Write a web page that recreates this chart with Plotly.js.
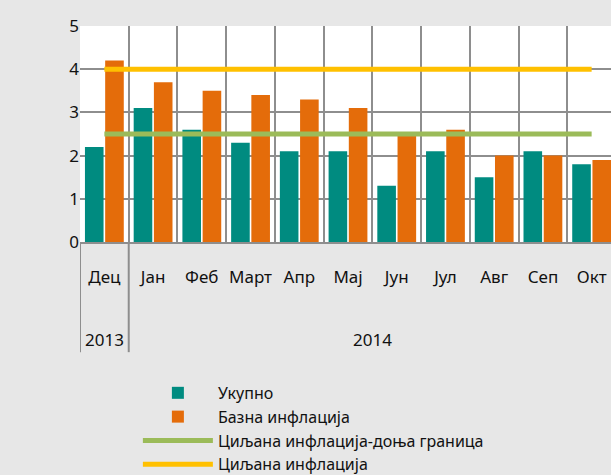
<!DOCTYPE html>
<html><head><meta charset="utf-8">
<script src="https://cdn.plot.ly/plotly-3.0.1.min.js"></script>
<style>html,body{margin:0;padding:0;overflow:hidden;background:#e7e7e7}</style>
</head><body><div id="chart" style="width:620px;height:475px"></div>
<script>
const months = ['Дец','Јан','Феб','Март','Апр','Мај','Јун','Јул','Авг','Сеп','Окт'];
const years = ['2013','2014','2014','2014','2014','2014','2014','2014','2014','2014','2014'];
const total = [2.2,3.1,2.6,2.3,2.1,2.1,1.3,2.1,1.5,2.1,1.8];
const core = [4.2,3.7,3.5,3.4,3.3,3.1,2.5,2.6,2.0,2.0,1.9];
const targetLow = [2.5,2.5,2.5,2.5,2.5,2.5,2.5,2.5,2.5,2.5,2.5];
const target = [4,4,4,4,4,4,4,4,4,4,4];
const seriesNames = ['Укупно','Базна инфлација','Циљана инфлација-доња граница','Циљана инфлација'];
const yTicks = [0,1,2,3,4,5];

const FONT = 'Noto Sans, DejaVu Sans, sans-serif';
const GRID = '#8e8e8e';
const TXT = '#111';

// year groups built from the years array
const groups = [];
years.forEach((y,i)=>{
  if(!groups.length || groups[groups.length-1].year!==y) groups.push({year:y,start:i,end:i});
  else groups[groups.length-1].end = i;
});
const dividerPos = groups.map(g=>g.start-0.5).concat([groups[groups.length-1].end+0.5]);

const shapes = dividerPos.map(p=>({type:'line',xref:'x',yref:'paper',x0:p,x1:p,y0:0,y1:-0.51,
  line:{color:GRID,width:2},layer:'above'}));
const annotations = groups.map(g=>({xref:'x',yref:'paper',x:(g.start+g.end)/2,y:-0.4537,
  text:g.year,showarrow:false,yanchor:'middle',xanchor:'center',font:{family:FONT,size:17,color:TXT}}));

const data = [
  {type:'bar',x:months,y:total,name:seriesNames[0],marker:{color:'#008b80'}},
  {type:'bar',x:months,y:core,name:seriesNames[1],marker:{color:'#e46c0a'}},
  {type:'scatter',mode:'lines',x:months,y:targetLow,name:seriesNames[2],line:{color:'#9bbb59',width:5}},
  {type:'scatter',mode:'lines',x:months,y:target,name:seriesNames[3],line:{color:'#ffc000',width:5}}
];

const layout = {
  width:620,height:475,
  margin:{l:80,r:4,t:26,b:233,autoexpand:false},
  paper_bgcolor:'#e7e7e7',plot_bgcolor:'#ffffff',
  barmode:'group',bargap:0.17,bargroupgap:0.08,
  font:{family:FONT,size:17,color:TXT},
  xaxis:{type:'category',range:[-0.5,10.5],tickson:'boundaries',showgrid:true,gridcolor:GRID,gridwidth:2,
    ticks:'',tickangle:0,ticklabelstandoff:19,showline:true,linecolor:GRID,linewidth:2,
    tickfont:{family:FONT,size:17,color:TXT},fixedrange:true},
  yaxis:{range:[0,5],tickvals:yTicks,showgrid:true,gridcolor:GRID,gridwidth:2,zeroline:false,
    ticks:'',tickfont:{family:FONT,size:17,color:TXT},showline:false,fixedrange:true},
  showlegend:true,
  legend:{x:0.108,y:-0.62,xanchor:'left',yanchor:'top',traceorder:'normal',
    itemwidth:70,bgcolor:'rgba(0,0,0,0)',font:{family:FONT,size:16,color:TXT}},
  shapes:shapes,annotations:annotations
};
Plotly.newPlot('chart',data,layout,{displayModeBar:false,staticPlot:true});
</script></body></html>
